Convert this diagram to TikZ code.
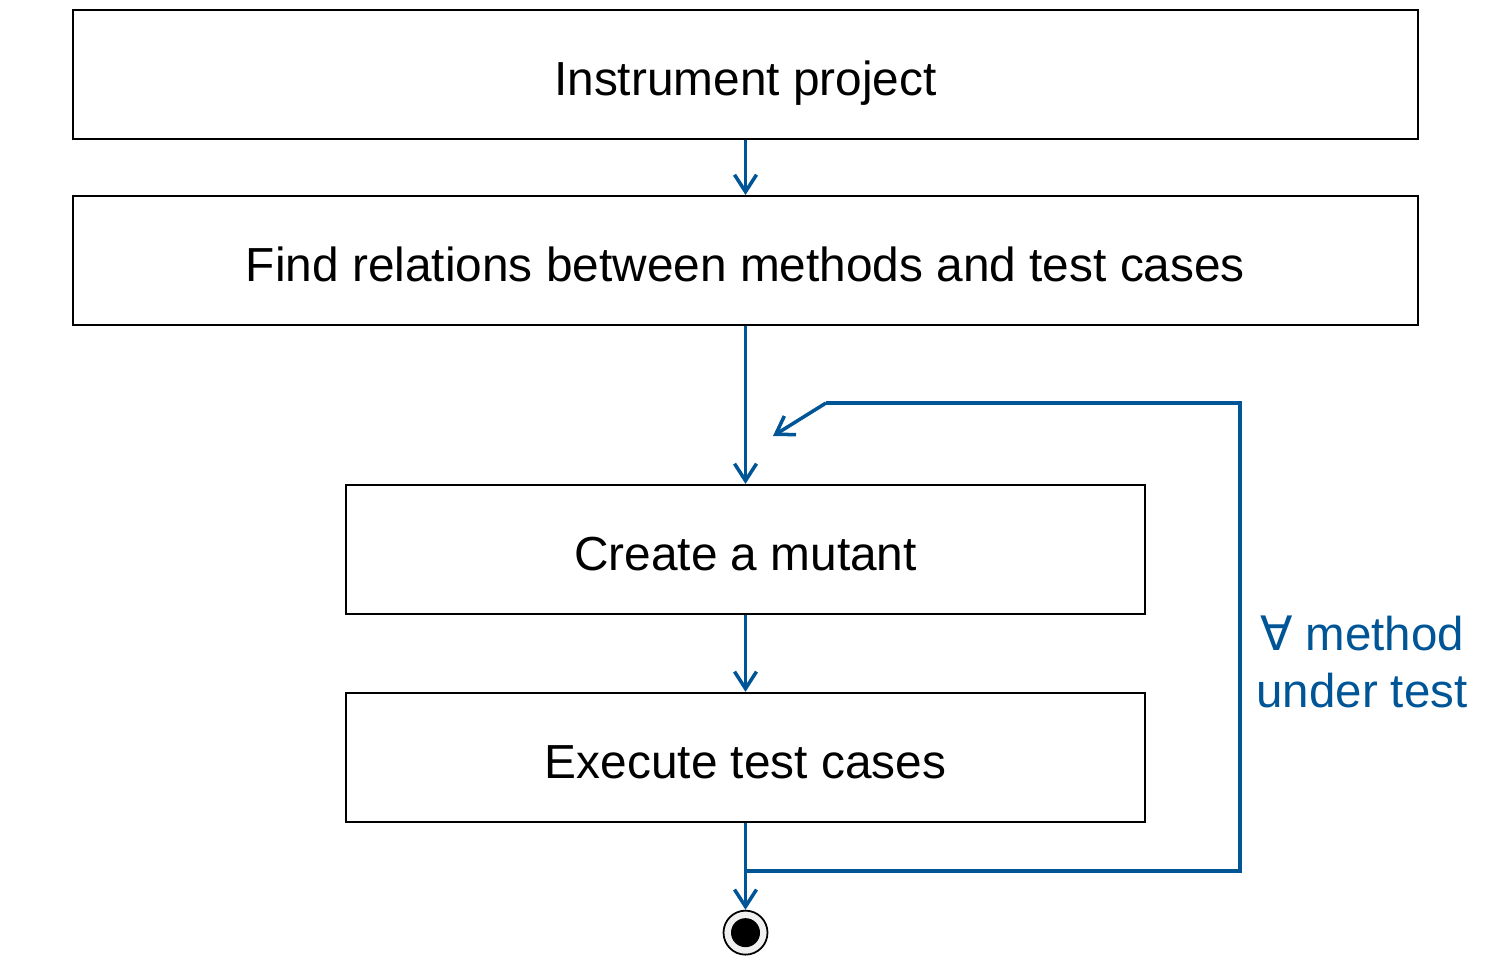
\documentclass[tikz,border=0pt]{standalone}
\usepackage{fontspec}
\setmainfont{Liberation Sans}
\newfontfamily\symfont{DejaVu Sans}
\usetikzlibrary{positioning,arrows.meta,calc}
\definecolor{flowblue}{HTML}{005596}
\tikzset{
  actbox/.style={draw, line width=1.1pt, minimum height=2.58cm, align=center,
    text height=24pt, text depth=0pt, font=\fontsize{27.2}{32}\selectfont},
  widebox/.style={actbox, minimum width=26.9cm},
  narrowbox/.style={actbox, minimum width=15.98cm},
  flow/.style={-{Straight Barb[length=3.4mm,width=4.4mm]}, draw=flowblue, line width=2pt},
  loopline/.style={draw=flowblue, line width=2pt},
  endstate/.style={circle, draw, line width=1pt, fill=gray!12, minimum size=0.88cm, inner sep=0pt,
    path picture={\fill[black] (path picture bounding box.center) circle (0.29cm);}},
  looplabel/.style={text=flowblue, align=center, font=\fontsize{27}{32}\selectfont},
}

\begin{document}
\begin{tikzpicture}[node distance=1.1cm]
  \useasboundingbox (0,0) rectangle (30,-19.38);
  \node[widebox] (instr) at (14.91,-1.49) {Instrument project};
  \node[widebox, below=of instr] (relations) {Find relations between methods and test cases};
  \node[narrowbox, below=3.16cm of relations] (mutant) {Create a mutant};
  \node[narrowbox, below=1.54cm of mutant] (exec) {Execute test cases};
  \node[endstate, below=1.74cm of exec] (final) {};
  % loop back for every method
  \coordinate (loopstart) at ($(exec.south)+(0,-0.96)$);
  \coordinate (looptr) at (24.8,-8.06);
  \coordinate (loopbr) at (looptr |- loopstart);
  \coordinate (looptl) at (16.52,-8.06);
  \coordinate (loopend) at (15.46,-8.72);
  \node[looplabel] (forall) at (27.24,-13.24) {{\symfont ∀} method\\under test};
  \draw[flow] (instr) -- (relations);
  \draw[flow] (relations) -- (mutant);
  \draw[flow] (mutant) -- (exec);
  \draw[flow] (exec) -- (final);
  \draw[loopline] (loopstart) -- (loopbr) -- (looptr) -- (looptl);
  \draw[flow] (looptl) -- (loopend);
\end{tikzpicture}
\end{document}
